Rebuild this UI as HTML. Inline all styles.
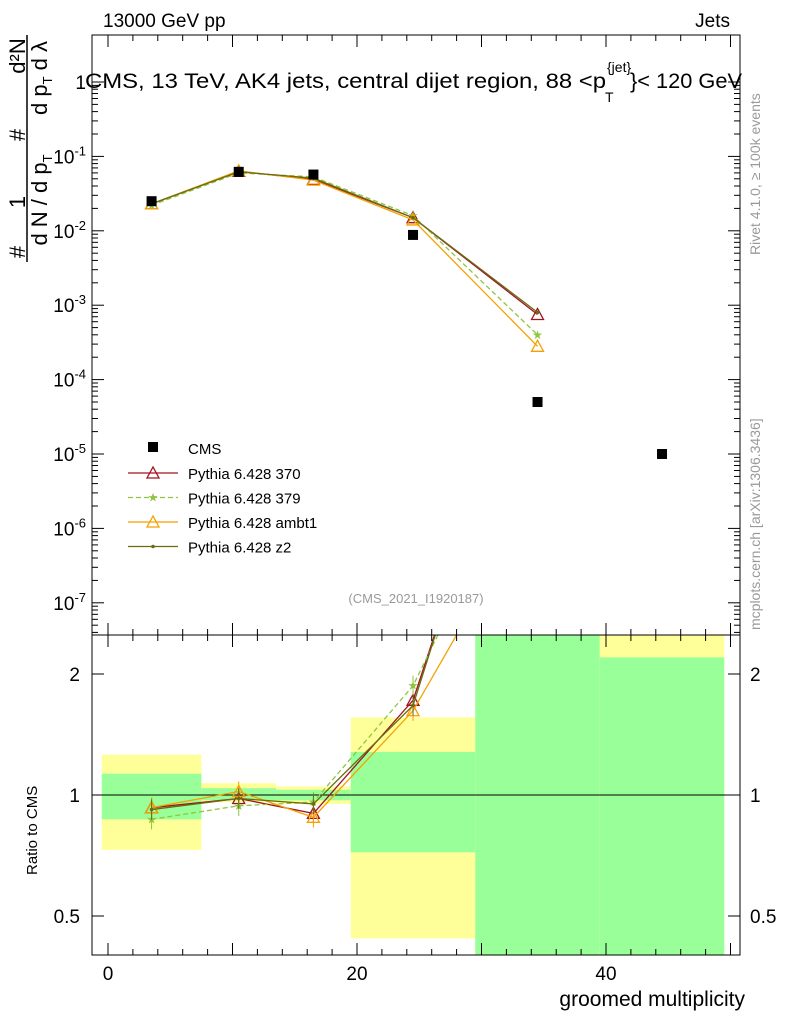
<!DOCTYPE html>
<html><head><meta charset="utf-8">
<style>
html,body{margin:0;padding:0;background:#fff;overflow:hidden;width:786px;height:1024px;}
svg{display:block;overflow:hidden;}
svg text{font-family:"Liberation Sans",sans-serif;}
</style></head>
<body>
<svg id="c" width="786" height="1024" viewBox="0 0 786 1024" xmlns="http://www.w3.org/2000/svg">
<defs>
<clipPath id="cm"><rect x="92" y="35" width="648" height="600"/></clipPath>
<clipPath id="cr"><rect x="92" y="635" width="648" height="320"/></clipPath>
</defs>
<g id="bands" clip-path="url(#cr)"></g>
<g id="ratio" clip-path="url(#cr)"></g>
<g id="main" clip-path="url(#cm)"></g>
<g id="axes"></g>
<text x="103" y="27" font-size="19">13000 GeV pp</text>
<text x="730" y="27" font-size="19" text-anchor="end">Jets</text>
<g>
<text x="85" y="88" font-size="21" textLength="521" lengthAdjust="spacingAndGlyphs">CMS, 13 TeV, AK4 jets, central dijet region, 88 &lt;p</text>
<text x="607" y="72" font-size="14">{jet}</text><text x="605" y="102" font-size="14">T</text>
<text x="630" y="88" font-size="21" textLength="112" lengthAdjust="spacingAndGlyphs">}&lt; 120 GeV</text>
</g>
<text x="416" y="603" font-size="13" fill="#999" text-anchor="middle">(CMS_2021_I1920187)</text>
<text transform="translate(760,255) rotate(-90)" font-size="14" fill="#999">Rivet 4.1.0, ≥ 100k events</text>
<text transform="translate(760,630) rotate(-90)" font-size="14" fill="#999">mcplots.cern.ch [arXiv:1306.3436]</text>
<g font-size="22">
<text transform="translate(25,252) rotate(-90)" text-anchor="middle">#</text>
<text transform="translate(25,202) rotate(-90)" text-anchor="middle">1</text>
<text transform="translate(25,135) rotate(-90)" text-anchor="middle">#</text>
<text transform="translate(25,56) rotate(-90)" text-anchor="middle">d²N</text>
<text transform="translate(47,200) rotate(-90)" text-anchor="middle">d N / d p<tspan font-size="13" dy="5">T</tspan></text>
<text transform="translate(47,78) rotate(-90)" text-anchor="middle">d p<tspan font-size="13" dy="5">T</tspan><tspan dy="-5"> d λ</tspan></text>
<line x1="27" y1="35" x2="27" y2="262" stroke="#000" stroke-width="1.5"/>
</g>
<text transform="translate(37,875) rotate(-90)" font-size="15">Ratio to CMS</text>
<text x="745" y="1006" font-size="21" text-anchor="end">groomed multiplicity</text>
<g id="legend"></g>
</svg>
<script>
const NS="http://www.w3.org/2000/svg";
const xCenters=[3.5,10.5,16.5,24.5,34.5,44.5];
const binEdges=[-0.5,7.5,13.5,19.5,29.5,39.5,49.5];
const cmsValues=[0.025,0.062,0.057,0.0088,5e-5,1e-5];
const mcX=[3.5,10.5,16.5,24.5,34.5];
const p370=[0.023,0.063,0.049,0.015,7.5e-4];
const p379=[0.022,0.060,0.053,0.016,4e-4];
const pAmbt1=[0.023,0.064,0.048,0.014,2.8e-4];
const pZ2=[0.023,0.062,0.051,0.015,8e-4];
const r370=[0.93,0.98,0.90,1.72,15];
const r379=[0.87,0.94,0.96,1.87,8];
const rAmbt1=[0.93,1.02,0.88,1.62,5.6];
const rZ2=[0.92,0.98,0.95,1.67,16];
const yellowLo=[0.73,0.96,0.95,0.44,0.1,0.1];
const yellowHi=[1.26,1.07,1.05,1.56,10,10];
const greenLo=[0.87,0.97,0.97,0.72,0.1,0.1];
const greenHi=[1.13,1.04,1.03,1.28,10,2.2];
const mainTicks=[0,-1,-2,-3,-4,-5,-6,-7];
const ratioTicks=[0.5,1,2];
const xTicks=[0,20,40];

const X=v=>108+v*12.45;
const Y=v=>82-(Math.log10(v))*74.4;
const R=v=>795-Math.log2(v)*121;
function mk(tag,at,parent){const e=document.createElementNS(NS,tag);for(const k in at)e.setAttribute(k,at[k]);document.getElementById(parent).appendChild(e);return e;}

for(let i=0;i<yellowLo.length;i++){
 const x1=X(binEdges[i]),x2=X(binEdges[i+1]);
 let e=mk('rect',{x:x1,y:R(yellowHi[i]),width:x2-x1,height:R(yellowLo[i])-R(yellowHi[i]),fill:'#ffff99'},'bands');
 
 
 e=mk('rect',{x:x1,y:R(greenHi[i]),width:x2-x1,height:R(greenLo[i])-R(greenHi[i]),fill:'#99ff99'},'bands');
 
 
}
let ln=mk('line',{x1:92,x2:740,y1:R(1),y2:R(1),stroke:'#000'},'ratio');



const series=[
 {n:'pythia-370',v:p370,r:r370,c:'#a0141e',d:'',m:'tri'},
 {n:'pythia-379',v:p379,r:r379,c:'#8dc63f',d:'5,3',m:'star'},
 {n:'pythia-ambt1',v:pAmbt1,r:rAmbt1,c:'#f5a000',d:'',m:'tri'},
 {n:'pythia-z2',v:pZ2,r:rZ2,c:'#6b6b14',d:'',m:'dot'}];
function marker(s,x,y,g){
 let e;
 if(s.m==='tri')e=mk('polygon',{points:`${x},${y-6} ${x-6},${y+5} ${x+6},${y+5}`,fill:'none',stroke:s.c,'stroke-width':1.3},g);
 else if(s.m==='star')e=mk('text',{x:x,y:y+4,'font-size':12,fill:s.c,'text-anchor':'middle'},g),e.textContent='★';
 else e=mk('circle',{cx:x,cy:y,r:1.8,fill:s.c},g);
 
 
}
series.forEach(s=>{
 let pts=mcX.map((x,i)=>X(x)+','+Y(s.v[i])).join(' ');
 let e=mk('polyline',{points:pts,fill:'none',stroke:s.c,'stroke-width':1.3,'stroke-dasharray':s.d},'main');
 
 
 mcX.forEach((x,i)=>marker(s,X(x),Y(s.v[i]),'main'));
 pts=mcX.map((x,i)=>X(x)+','+R(s.r[i])).join(' ');
 e=mk('polyline',{points:pts,fill:'none',stroke:s.c,'stroke-width':1.3,'stroke-dasharray':s.d},'ratio');
 
 
 mcX.forEach((x,i)=>{marker(s,X(x),R(s.r[i]),'ratio');
  const b=mk('line',{x1:X(x),x2:X(x),y1:R(s.r[i]*1.06),y2:R(s.r[i]/1.06),stroke:s.c},'ratio');
  
  });
});
xCenters.forEach((x,i)=>{
 const e=mk('rect',{x:X(x)-5,y:Y(cmsValues[i])-5,width:10,height:10,fill:'#000'},'main');
 
 
});
[[35,600],[635,320]].forEach(([y,h])=>{const e=mk('rect',{x:92,y:y,width:648,height:h,fill:'none',stroke:'#000'},'axes');});
mainTicks.forEach(p=>{
 const y=Y(Math.pow(10,p));
 mk('line',{x1:92,x2:104,y1:y,y2:y,stroke:'#000'},'axes');
 mk('line',{x1:728,x2:740,y1:y,y2:y,stroke:'#000'},'axes');
 for(let k=2;k<10;k++){const yy=Y(k*Math.pow(10,p-1));if(yy<635&&yy>35){mk('line',{x1:92,x2:98,y1:yy,y2:yy,stroke:'#000'},'axes');mk('line',{x1:734,x2:740,y1:yy,y2:yy,stroke:'#000'},'axes');}}
 const t=mk('text',{x:86,y:y+7,'font-size':19,'text-anchor':'end'},'axes');
 
 
 if(p===0)t.textContent='1';else{t.textContent='10';const s=document.createElementNS(NS,'tspan');s.setAttribute('dy','-8');s.setAttribute('font-size','13');s.textContent=p;t.appendChild(s);}
});
ratioTicks.forEach(v=>{
 const y=R(v);
 mk('line',{x1:92,x2:104,y1:y,y2:y,stroke:'#000'},'axes');
 mk('line',{x1:728,x2:740,y1:y,y2:y,stroke:'#000'},'axes');
 let t=mk('text',{x:80,y:y+7,'font-size':19,'text-anchor':'end'},'axes');t.textContent=v;
 
 
 t=mk('text',{x:750,y:y+7,'font-size':19},'axes');t.textContent=v;
});
for(let v=0;v<=50;v+=2){const x=X(v);const big=v%10===0;
 [635,955].forEach(y=>mk('line',{x1:x,x2:x,y1:y,y2:y-(big?12:6),stroke:'#000'},'axes'));
 mk('line',{x1:x,x2:x,y1:35,y2:35+(big?12:6),stroke:'#000'},'axes');
 mk('line',{x1:x,x2:x,y1:635,y2:635+(big?12:6),stroke:'#000'},'axes');}
xTicks.forEach(v=>{const t=mk('text',{x:X(v),y:980,'font-size':19,'text-anchor':'middle'},'axes');t.textContent=v;
 
 });
const labels=['Pythia 6.428 370','Pythia 6.428 379','Pythia 6.428 ambt1','Pythia 6.428 z2'];
let e=mk('rect',{x:148,y:442,width:10,height:10,fill:'#000'},'legend');


let t=mk('text',{x:188,y:454,'font-size':15},'legend');t.textContent='CMS';
series.forEach((s,i)=>{
 const y=473+i*24.5;
 const l=mk('line',{x1:128,x2:178,y1:y,y2:y,stroke:s.c,'stroke-width':1.3,'stroke-dasharray':s.d},'legend');
 
 
 marker(s,153,y,'legend');
 const tt=mk('text',{x:188,y:y+6,'font-size':15},'legend');tt.textContent=labels[i];
});
</script>
</body></html>
